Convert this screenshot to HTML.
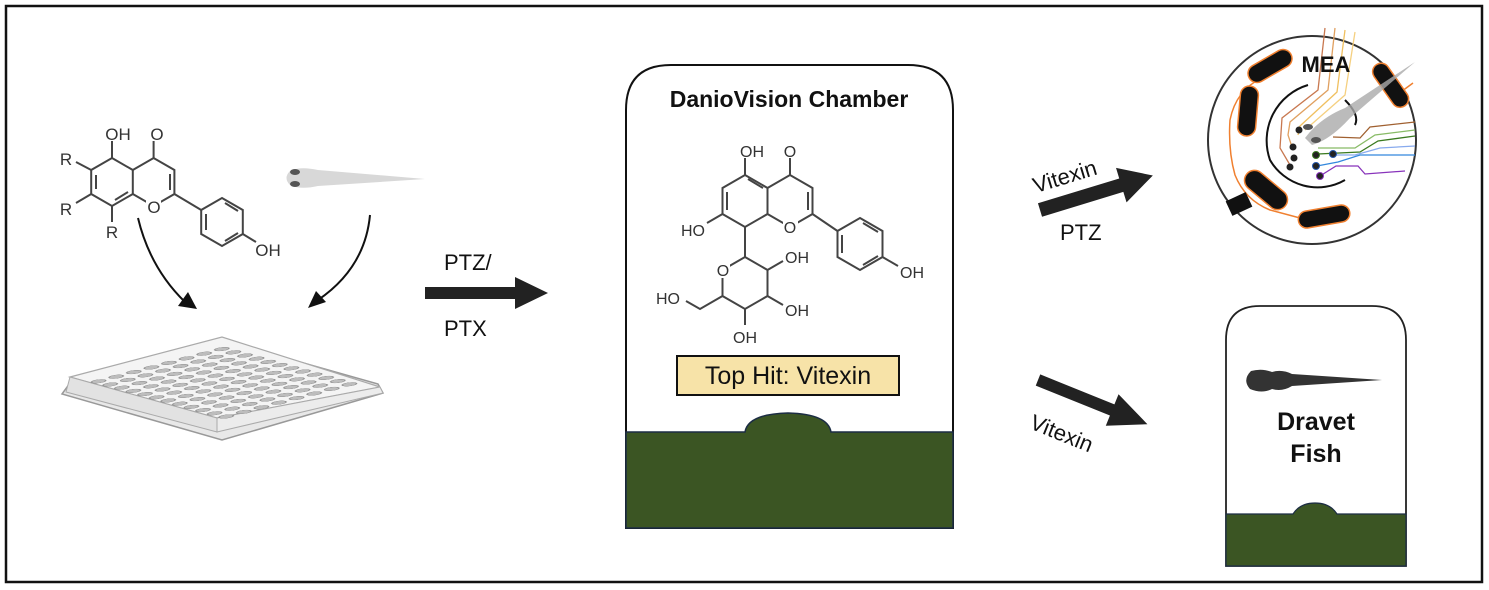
<!DOCTYPE html>
<html><head><meta charset="utf-8"><style>
html,body{margin:0;padding:0;background:#fff}
svg{display:block}
text{font-family:"Liberation Sans",sans-serif}
</style></head><body>
<svg width="1489" height="590" viewBox="0 0 1489 590" xmlns="http://www.w3.org/2000/svg">
<defs>
<pattern id="wells" x="0" y="0" width="1" height="1" patternUnits="userSpaceOnUse">
<circle cx="0.5" cy="0.5" r="0.34" fill="#bdbdbd" stroke="#8a8a8a" stroke-width="0.06"/>
</pattern>
</defs>
<rect x="6" y="6" width="1476" height="576" fill="#fff" stroke="#111" stroke-width="2.5"/>

<!-- Left flavone -->
<g stroke="#444" stroke-width="2" fill="none">
<polygon points="112,158 132.8,170 132.8,194 112,206 91.2,194 91.2,170"/>
<polyline points="132.8,170 153.6,158 174.4,170 174.4,194 153.6,206 132.8,194"/>
<polygon points="222,198 242.8,210 242.8,234 222,246 201.2,234 201.2,210"/>
<line x1="174.4" y1="194" x2="201.2" y2="210"/>
<line x1="242.8" y1="234" x2="256" y2="242"/>
<line x1="112" y1="158" x2="112" y2="141"/>
<line x1="153.6" y1="158" x2="153.6" y2="141"/>
<line x1="91.2" y1="170" x2="76" y2="162"/>
<line x1="91.2" y1="194" x2="76" y2="203"/>
<line x1="112" y1="206" x2="112" y2="222"/>
<line x1="96" y1="175" x2="96" y2="189"/><line x1="115" y1="200" x2="128" y2="192"/>
<line x1="170" y1="174" x2="170" y2="190"/>
<line x1="206" y1="214" x2="206" y2="230"/><line x1="225" y1="241" x2="238" y2="233"/><line x1="225" y1="203" x2="238" y2="211"/>
</g>
<rect x="146" y="199" width="15" height="15" fill="#fff"/>
<g font-size="17" fill="#333" text-anchor="middle">
<text x="118" y="140">OH</text><text x="157" y="140">O</text>
<text x="154" y="213">O</text><text x="268" y="256">OH</text>
<text x="66" y="165">R</text><text x="66" y="215">R</text><text x="112" y="238">R</text>
</g>
<!-- larva -->
<g>
<path d="M290,171 Q300,166 318,170 L425,179 L318,186 Q300,190 290,185 Q283,178 290,171z" fill="#d8d8d8"/>
<ellipse cx="295" cy="172" rx="5" ry="3" fill="#555"/><ellipse cx="295" cy="184" rx="5" ry="3" fill="#555"/>
</g>
<!-- curved arrows -->
<path d="M138,218 Q150,268 185,302" stroke="#111" stroke-width="2" fill="none"/>
<path d="M197,309 L178,306 L188,292z" fill="#111"/>
<path d="M370,215 Q365,268 318,300" stroke="#111" stroke-width="2" fill="none"/>
<path d="M308,308 L316,291 L326,302z" fill="#111"/>

<!-- plate -->
<path d="M62,394 L70,383 L222,340 L378,384 L383,393 L222,440 Z" fill="#e8e8e8" stroke="#999" stroke-width="1.5"/>
<path d="M70,377 L222,337 L380,387 L217,418 Z" fill="#f4f4f4" stroke="#aaa" stroke-width="1.2"/>
<path d="M70,377 L217,418 L217,432 L66,392 Z" fill="#e2e2e2" stroke="#aaa" stroke-width="1"/>
<path d="M217,418 L380,387 L383,393 L217,432 Z" fill="#ececec" stroke="#aaa" stroke-width="1"/>
<g transform="matrix(11.6,3.2,17.6,-4.6,84,382)"><rect x="0" y="0" width="12" height="8" fill="url(#wells)"/></g>

<!-- PTZ/PTX arrow -->
<text x="444" y="270" font-size="22" fill="#111">PTZ/</text>
<text x="444" y="336" font-size="22" fill="#111">PTX</text>
<path d="M425,287 L515,287 L515,277 L548,293 L515,309 L515,299 L425,299z" fill="#222"/>

<!-- Chamber -->
<path d="M626,528 L626,110 Q626,65 671,65 L908,65 Q953,65 953,110 L953,528 Z" fill="#fff" stroke="#111" stroke-width="2"/>
<path d="M626,432 L745,432 Q748,414 788,413 Q828,414 831,432 L953,432 L953,528 L626,528z" fill="#3b5523" stroke="#1c2d44" stroke-width="1.5"/>
<text x="789" y="107" font-size="23" font-weight="bold" text-anchor="middle" fill="#111">DanioVision Chamber</text>
<rect x="677" y="356" width="222" height="39" fill="#f7e3a8" stroke="#111" stroke-width="2"/>
<text x="788" y="384" font-size="25" text-anchor="middle" fill="#111">Top Hit: Vitexin</text>
<g stroke="#444" stroke-width="2" fill="none">
<polygon points="745,175 767.5,188 767.5,214 745,227 722.5,214 722.5,188"/>
<polyline points="767.5,188 790,175 812.5,188 812.5,214 790,227 767.5,214"/>
<polygon points="860,218 882.5,231 882.5,257 860,270 837.5,257 837.5,231"/>
<line x1="812.5" y1="214" x2="837.5" y2="231"/>
<line x1="882.5" y1="257" x2="898" y2="266"/>
<line x1="745" y1="175" x2="745" y2="158"/>
<line x1="790" y1="175" x2="790" y2="158"/>
<line x1="722.5" y1="214" x2="707" y2="223"/>
<line x1="745" y1="227" x2="745" y2="257"/>
<polygon points="745,257 767.5,270 767.5,296 745,309 722.5,296 722.5,270"/>
<line x1="767.5" y1="270" x2="783" y2="261"/>
<line x1="767.5" y1="296" x2="783" y2="305"/>
<line x1="745" y1="309" x2="745" y2="325"/>
<polyline points="722.5,296 700,309 686,301"/>
<line x1="727" y1="192" x2="727" y2="210"/><line x1="748" y1="179" x2="763" y2="188"/>
<line x1="808" y1="192" x2="808" y2="210"/>
<line x1="842" y1="235" x2="842" y2="253"/><line x1="863" y1="265" x2="878" y2="256"/><line x1="863" y1="223" x2="878" y2="232"/>
</g>
<rect x="783" y="220" width="15" height="15" fill="#fff"/>
<rect x="715" y="263" width="15" height="15" fill="#fff"/>
<g font-size="16" fill="#333" text-anchor="middle">
<text x="752" y="157">OH</text><text x="790" y="157">O</text>
<text x="790" y="233">O</text><text x="723" y="276">O</text>
<text x="693" y="236">HO</text><text x="912" y="278">OH</text>
<text x="797" y="263">OH</text><text x="797" y="316">OH</text><text x="745" y="343">OH</text><text x="668" y="304">HO</text>
</g>

<!-- Vitexin/PTZ arrow -->
<g transform="translate(1040,210) rotate(-17)">
<path d="M0,-7 L85,-7 L85,-18 L118,0 L85,18 L85,7 L0,7z" fill="#222"/>
</g>
<text x="1032" y="183" font-size="22" fill="#111" transform="rotate(-17 1068 176)">Vitexin</text>
<text x="1060" y="240" font-size="22" fill="#111">PTZ</text>

<!-- lower arrow -->
<g transform="translate(1038,380) rotate(22)">
<path d="M0,-6 L80,-6 L80,-17 L118,0 L80,17 L80,6 L0,6z" fill="#222"/>
</g>
<text x="1030" y="440" font-size="22" fill="#111" transform="rotate(22 1060 430)">Vitexin</text>

<!-- MEA -->
<circle cx="1312" cy="140" r="104" fill="#fff" stroke="#333" stroke-width="2"/>
<g stroke="#f08030" stroke-width="1.5" fill="none">
<path d="M1262,78 Q1236,90 1230,120 Q1228,150 1235,175 Q1245,200 1270,210 L1300,218"/>
<line x1="1390" y1="100" x2="1413" y2="83"/>
</g>
<g fill="#111" stroke="#f08030" stroke-width="1.5">
<rect x="1246" y="57" width="48" height="18" rx="9" transform="rotate(-30 1270 66)"/>
<rect x="1223" y="102" width="50" height="18" rx="9" transform="rotate(-85 1248 111)"/>
<rect x="1241" y="180" width="50" height="20" rx="10" transform="rotate(40 1266 190)"/>
<rect x="1298" y="208" width="52" height="17" rx="8.5" transform="rotate(-10 1324 216)"/>
<rect x="1366" y="77" width="50" height="17" rx="8.5" transform="rotate(55 1391 85)"/>
</g>
<rect x="1228" y="196" width="22" height="16" fill="#111" transform="rotate(-25 1239 204)"/>
<path d="M1308,85 A58,58 0 0,0 1270,160 A55,55 0 0,0 1345,180" stroke="#111" stroke-width="2" fill="none"/>
<path d="M1345,100 Q1360,115 1355,125" stroke="#111" stroke-width="2" fill="none"/>
<g fill="none" stroke-width="1.3">
<polyline points="1325,28 1318,90 1282,118 1280,148 1290,165" stroke="#c87850"/>
<polyline points="1335,28 1328,90 1290,122 1288,135 1293,150" stroke="#e0a060"/>
<polyline points="1345,30 1337,92 1300,126 1298,135" stroke="#f0c060"/>
<polyline points="1355,32 1345,95 1305,130" stroke="#f5d080"/>
<polyline points="1415,122 1370,127 1360,138 1333,137" stroke="#a06030"/>
<polyline points="1415,130 1375,135 1355,148 1318,148" stroke="#88bb66"/>
<polyline points="1415,136 1378,141 1360,152 1318,154 1317,155" stroke="#3a7a20"/>
<polyline points="1415,146 1380,148 1355,155 1335,155" stroke="#88aaee"/>
<polyline points="1415,155 1360,155 1338,162 1317,166" stroke="#3388dd"/>
<polyline points="1405,171 1365,174 1358,166 1336,166 1320,176" stroke="#8833bb"/>
</g>
<g fill="#222">
<circle cx="1299" cy="130" r="3.5"/><circle cx="1293" cy="147" r="3.5"/><circle cx="1294" cy="158" r="3.5"/><circle cx="1290" cy="167" r="3.5"/>
<circle cx="1316" cy="155" r="3.5" stroke="#3a7a20"/><circle cx="1333" cy="154" r="3.5" stroke="#2255aa"/>
<circle cx="1316" cy="166" r="3.5" stroke="#2255aa"/><circle cx="1320" cy="176" r="3.5" stroke="#8833bb"/>
</g>
<path d="M1305,138 Q1320,118 1345,108 L1415,62 L1350,118 Q1330,140 1312,145z" fill="#aaa" opacity="0.8"/>
<ellipse cx="1308" cy="127" rx="5" ry="3" fill="#555"/><ellipse cx="1316" cy="140" rx="5" ry="3" fill="#555"/>
<text x="1326" y="72" font-size="22" font-weight="bold" text-anchor="middle" fill="#111">MEA</text>

<!-- Dravet box -->
<path d="M1226,566 L1226,340 Q1226,306 1260,306 L1372,306 Q1406,306 1406,340 L1406,566 Z" fill="#fff" stroke="#222" stroke-width="1.8"/>
<path d="M1226,514 L1293,514 Q1300,503 1315,503 Q1330,503 1337,514 L1406,514 L1406,566 L1226,566z" fill="#3b5523" stroke="#1c2d44" stroke-width="1.2"/>
<path d="M1251,371 Q1262,368 1272,372 Q1282,369 1292,374 L1382,380 L1292,386 Q1282,392 1272,389 Q1262,394 1250,389 Q1242,380 1251,371z" fill="#333"/>
<text x="1316" y="430" font-size="25" font-weight="bold" text-anchor="middle" fill="#111">Dravet</text>
<text x="1316" y="462" font-size="25" font-weight="bold" text-anchor="middle" fill="#111">Fish</text>
</svg>
</body></html>
